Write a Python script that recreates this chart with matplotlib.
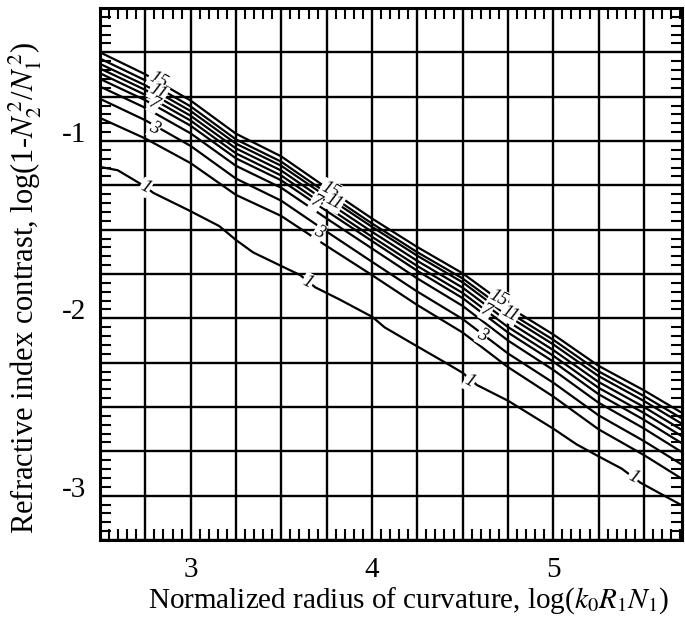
import matplotlib
matplotlib.use('Agg')
import matplotlib.pyplot as plt
import matplotlib.transforms as mtransforms
from matplotlib.ticker import MultipleLocator, FuncFormatter

plt.rcParams['font.family'] = ['Liberation Serif', 'DejaVu Serif']
plt.rcParams['mathtext.fontset'] = 'stix'
plt.rcParams['axes.unicode_minus'] = False

x_pts = [2.5, 2.75, 3.0, 3.25, 3.5, 3.75, 4.0, 4.25, 4.5, 4.75, 5.0, 5.25, 5.5, 5.71]

# curves, top to bottom (levels 15 ... 2)
y_15 = [-0.500, -0.624, -0.772, -0.959, -1.087, -1.264, -1.437, -1.598, -1.746, -1.933, -2.091, -2.268, -2.406, -2.533]
y_13 = [-0.535, -0.658, -0.805, -0.991, -1.117, -1.293, -1.465, -1.627, -1.775, -1.963, -2.121, -2.299, -2.438, -2.565]
y_11 = [-0.565, -0.686, -0.831, -1.015, -1.140, -1.314, -1.484, -1.647, -1.797, -1.987, -2.147, -2.326, -2.466, -2.595]
y_9 = [-0.591, -0.712, -0.858, -1.042, -1.167, -1.342, -1.512, -1.676, -1.827, -2.018, -2.179, -2.359, -2.500, -2.630]
y_7 = [-0.618, -0.740, -0.885, -1.070, -1.195, -1.370, -1.540, -1.705, -1.857, -2.049, -2.211, -2.392, -2.534, -2.665]
y_5 = [-0.650, -0.770, -0.914, -1.098, -1.222, -1.395, -1.564, -1.732, -1.886, -2.080, -2.244, -2.428, -2.572, -2.705]
y_4 = [-0.693, -0.813, -0.957, -1.140, -1.264, -1.437, -1.606, -1.775, -1.930, -2.125, -2.291, -2.476, -2.621, -2.755]
y_3 = [-0.762, -0.883, -1.028, -1.212, -1.337, -1.511, -1.681, -1.849, -2.004, -2.198, -2.363, -2.547, -2.692, -2.825]
y_2 = [-0.870, -0.986, -1.125, -1.304, -1.423, -1.592, -1.756, -1.925, -2.080, -2.275, -2.441, -2.626, -2.771, -2.905]

# lowest curve (level 1), traced with more points
x_1 = [2.5, 2.598, 2.68, 2.743, 2.795, 2.992, 3.158, 3.251, 3.344, 3.504, 3.604,
       3.687, 3.822, 4.002, 4.07, 4.251, 4.402, 4.5, 4.579, 4.751, 5.0, 5.129,
       5.253, 5.378, 5.481, 5.71]
y_1 = [-1.146, -1.165, -1.215, -1.254, -1.293, -1.392, -1.48, -1.559, -1.628, -1.707, -1.756,
       -1.825, -1.894, -1.992, -2.051, -2.159, -2.248, -2.307, -2.376, -2.465, -2.622, -2.711,
       -2.78, -2.848, -2.927, -3.055]

# contour labels: text, x, y
lab_txt = ['15', '11', '7', '3', '1',
           '15', '11', '7', '3', '1',
           '15', '11', '7', '3', '1', '1']
lab_x = [2.82, 2.82, 2.80, 2.80, 2.75,
         3.77, 3.79, 3.69, 3.71, 3.645,
         4.70, 4.76, 4.63, 4.61, 4.537, 5.44]
lab_y = [-0.655, -0.725, -0.79, -0.93, -1.262,
         -1.275, -1.345, -1.345, -1.515, -1.795,
         -1.885, -1.975, -1.96, -2.095, -2.356, -2.898]

fig = plt.figure(figsize=(6.85, 6.22), dpi=100)
ax = fig.add_axes([100 / 685, 82 / 622, 582 / 685, 532 / 622])

for ys in [y_15, y_13, y_11, y_9, y_7, y_5, y_4, y_3, y_2]:
    ax.plot(x_pts, ys, color='black', lw=1.6, zorder=3)
ax.plot(x_1, y_1, color='black', lw=1.6, zorder=3)

for t, x, y in zip(lab_txt, lab_x, lab_y):
    ax.text(x, y, t, fontsize=13, style='italic', rotation=-28,
            ha='center', va='center', zorder=4,
            bbox=dict(boxstyle='square,pad=0.05', fc='white', ec='none'))

ax.set_xlim(2.5, 5.71)
ax.set_ylim(-3.25, -0.25)

def int_only(v, pos):
    if abs(v - round(v)) < 1e-6:
        return '%d' % round(v)
    return ''

ax.xaxis.set_major_locator(MultipleLocator(0.25))
ax.yaxis.set_major_locator(MultipleLocator(0.25))
ax.xaxis.set_minor_locator(MultipleLocator(0.05))
ax.yaxis.set_minor_locator(MultipleLocator(0.05))
ax.xaxis.set_major_formatter(FuncFormatter(int_only))
ax.yaxis.set_major_formatter(FuncFormatter(int_only))
ax.tick_params(which='both', direction='in', top=True, right=True, width=1.5,
               labelsize=21, color='black')
ax.tick_params(which='major', length=0, pad=12)
ax.tick_params(which='minor', length=8)
ax.tick_params(axis='y', which='major', pad=10)
ax.grid(True, which='major', color='black', lw=1.7, zorder=1)
for s in ax.spines.values():
    s.set_linewidth(2.2)

# y tick labels sit a bit above their grid line in the original
off = mtransforms.ScaledTranslation(0, 9 / 100, fig.dpi_scale_trans)
for lbl in ax.get_yticklabels():
    lbl.set_transform(lbl.get_transform() + off)

ax.set_xlabel(r'Normalized radius of curvature, log($k_0R_1N_1$)', fontsize=21)
ax.set_ylabel(r'Refractive index contrast, log(1-$N_2^{\,2}$/$N_1^{\,2}$)', fontsize=22)
ax.xaxis.set_label_coords(0.53, -0.085)
ax.yaxis.set_label_coords(-0.097, 0.475)

fig.savefig('out.png', dpi=100)
